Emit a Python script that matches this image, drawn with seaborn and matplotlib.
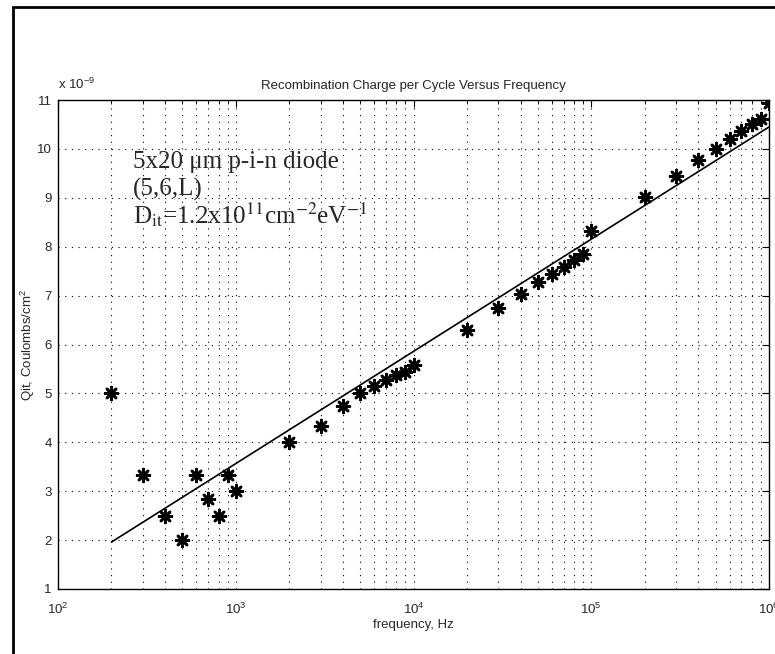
import numpy as np
import pandas as pd
import matplotlib
matplotlib.use('Agg')
import matplotlib.pyplot as plt
from matplotlib.patches import Rectangle
import seaborn as sns

# measured points (charge in units of 1e-9 C/cm^2)
freq = [200, 300, 400, 500, 600, 700, 800, 900, 1000,
        2000, 3000, 4000, 5000, 6000, 7000, 8000, 9000, 10000,
        20000, 30000, 40000, 50000, 60000, 70000, 80000, 90000, 100000,
        200000, 300000, 400000, 500000, 600000, 700000, 800000, 900000, 1000000]
qit = [5.0, 3.33, 2.5, 2.0, 3.33, 2.85, 2.5, 3.33, 3.0,
       4.0, 4.33, 4.75, 5.0, 5.16, 5.28, 5.37, 5.43, 5.59,
       6.29, 6.75, 7.03, 7.27, 7.44, 7.58, 7.72, 7.85, 8.32,
       9.02, 9.45, 9.78, 10.0, 10.21, 10.37, 10.51, 10.62, 10.95]

# fitted line end points
fit_freq = [200, 1000000]
fit_qit = [1.96, 10.45]

points = pd.DataFrame({'freq': freq, 'qit': qit})
fit = pd.DataFrame({'freq': fit_freq, 'qit': fit_qit})

sns.set_style('white')
plt.rcParams['font.family'] = ['Liberation Sans', 'DejaVu Sans']
plt.rcParams['mathtext.fontset'] = 'custom'
plt.rcParams['mathtext.rm'] = 'Liberation Sans'
plt.rcParams['mathtext.it'] = 'Liberation Sans'

fig = plt.figure(figsize=(7.75, 6.54), dpi=100)
ax = fig.add_axes([0.0748, 0.0994, 0.9175, 0.7476])

sns.lineplot(data=fit, x='freq', y='qit', color='black', linewidth=1.2, ax=ax)
sns.scatterplot(data=points, x='freq', y='qit', marker=(8, 2, 0), s=85,
                color='black', edgecolor='black', linewidth=1.9, ax=ax, zorder=3)

ax.set_xscale('log')
ax.set_xlim(1e2, 1e6)
ax.set_ylim(1, 11)
ax.set_yticks(range(1, 12))

dots = (0, (1, 5))
ax.grid(which='both', axis='x', linestyle=dots, color='black', linewidth=0.8)
ax.grid(which='major', axis='y', linestyle=dots, color='black', linewidth=0.8)
ax.tick_params(which='both', direction='in', top=True, right=True, labelsize=9.5, color='black')
ax.tick_params(which='major', length=5)
ax.tick_params(which='minor', length=3)
ax.tick_params(axis='x', which='both', pad=9)
ax.tick_params(axis='y', which='both', pad=4.5)
for s in ax.spines.values():
    s.set_color('black')
    s.set_linewidth(1.0)

ax.set_title('Recombination Charge per Cycle Versus Frequency', fontsize=9.5, pad=8)
ax.set_xlabel('frequency, Hz', fontsize=9.5, labelpad=2)
ax.set_ylabel('Qit, Coulombs/cm$^2$', fontsize=9.5)
ax.yaxis.set_label_coords(-0.029, 0.5)
ax.text(0.0, 1.016, 'x 10$^{-9}$', transform=ax.transAxes, fontsize=9.5, va='bottom', ha='left')

note_kw = dict(transform=ax.transAxes, fontsize=18, family='Liberation Serif',
               math_fontfamily='stix', va='baseline', ha='left')
ax.text(0.105, 0.861, '5x20 \u03bcm p-i-n diode', **note_kw)
ax.text(0.105, 0.804, '(5,6,L)', **note_kw)
ax.text(0.105, 0.748,
        'D$_{\\mathrm{it}}$=1.2x10$^{\\mathrm{11}}$cm$^{\\mathrm{-2}}$eV$^{\\mathrm{-1}}$',
        **note_kw)

# scanned page frame
fig.add_artist(Rectangle((0.017, -0.5), 1.5, 1.489, transform=fig.transFigure,
                         fill=False, edgecolor='black', linewidth=2, clip_on=False))

fig.savefig('out.png', dpi=100)
